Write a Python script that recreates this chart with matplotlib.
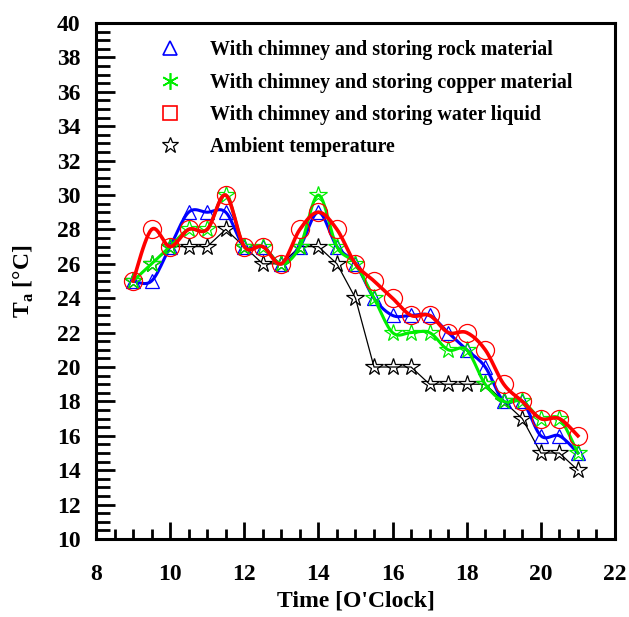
import numpy as np
import matplotlib.pyplot as plt
from matplotlib.ticker import MultipleLocator

plt.rcParams['font.family'] = ['Liberation Serif', 'DejaVu Serif']
plt.rcParams['font.weight'] = 'bold'
plt.rcParams['mathtext.fontset'] = 'custom'
plt.rcParams['mathtext.rm'] = 'Liberation Serif:bold'

# time of day [h]
hours = np.arange(9, 21.01, 0.5)

rock = [25, 25, 27, 29, 29, 29, 27, 27, 26, 27, 29, 27, 26, 24, 23, 23, 23, 22, 21, 20, 18, 18, 16, 16, 15]
copper = [25, 26, 27, 28, 28, 30, 27, 27, 26, 27, 30, 27, 26, 24, 22, 22, 22, 21, 21, 19, 18, 18, 17, 17, 15]
water = [25, 28, 27, 28, 28, 30, 27, 27, 26, 28, 29, 28, 26, 25, 24, 23, 23, 22, 22, 21, 19, 18, 17, 17, 16]
ambient = [25, 26, 27, 27, 27, 28, 27, 26, 26, 27, 27, 26, 24, 20, 20, 20, 19, 19, 19, 19, 18, 17, 15, 15, 14]

labels = ["With chimney and storing rock material",
          "With chimney and storing copper material",
          "With chimney and storing water liquid",
          "Ambient temperature"]


def smooth(x, y, n=12):
    # catmull-rom curve through the points (just for drawing)
    x = np.asarray(x, float)
    y = np.asarray(y, float)
    px = np.r_[x[0], x, x[-1]]
    py = np.r_[y[0], y, y[-1]]
    t = np.linspace(0, 1, n, endpoint=False)
    xs, ys = [], []
    for i in range(1, len(px) - 2):
        for p, out in ((px, xs), (py, ys)):
            p0, p1, p2, p3 = p[i - 1], p[i], p[i + 1], p[i + 2]
            out.extend(0.5 * (2 * p1 + (-p0 + p2) * t + (2 * p0 - 5 * p1 + 4 * p2 - p3) * t ** 2
                              + (-p0 + 3 * p1 - 3 * p2 + p3) * t ** 3))
    xs.append(x[-1])
    ys.append(y[-1])
    return xs, ys


fig = plt.figure(figsize=(6.29, 6.17), dpi=100)
ax = fig.add_axes([0.1526, 0.1264, 0.8251, 0.8363])

ax.plot(hours, ambient, color='black', lw=0.9, marker='*', ms=13, mfc='none', mec='black', mew=0.9, zorder=2)

series = [(rock, 'blue', '^', 10), (copper, '#00ee00', '*', 13)]
for vals, col, mk, ms in series:
    sx, sy = smooth(hours, vals)
    ax.plot(sx, sy, color=col, lw=2.2, zorder=3)
    ax.plot(hours, vals, ls='none', marker=mk, ms=ms, mfc='none', mec=col, mew=0.9, zorder=3)
sx, sy = smooth(hours, water)
ax.plot(sx, sy, color='red', lw=2.6, zorder=4)
ax.plot(hours, water, ls='none', marker='o', ms=13, mfc='none', mec='red', mew=0.9, zorder=4)

# legend (markers only)
handles = [plt.Line2D([], [], ls='none', marker='^', ms=10, mfc='none', mec='blue', mew=1.2),
           plt.Line2D([], [], ls='none', marker=(6, 2, 0), ms=12, mec='#00ee00', mew=1.2),
           plt.Line2D([], [], ls='none', marker='s', ms=10, mfc='none', mec='red', mew=1.2),
           plt.Line2D([], [], ls='none', marker='*', ms=12, mfc='none', mec='black', mew=0.9)]
ax.legend(handles, labels, loc='upper left', bbox_to_anchor=(0.08, 0.99), frameon=False,
          fontsize=14.4, handletextpad=1.0, labelspacing=0.62, borderaxespad=0.2)

ax.set_xlim(8, 22)
ax.set_ylim(10, 40)
ax.xaxis.set_major_locator(MultipleLocator(2))
ax.xaxis.set_minor_locator(MultipleLocator(0.5))
ax.yaxis.set_major_locator(MultipleLocator(2))
ax.yaxis.set_minor_locator(MultipleLocator(0.5))
ax.tick_params(axis='y', which='major', direction='in', length=14, width=2, labelsize=17, pad=11)
ax.tick_params(axis='y', which='minor', direction='in', length=10, width=2)
ax.tick_params(axis='x', which='major', direction='in', length=12, width=2, labelsize=17, pad=18)
ax.tick_params(axis='x', which='minor', direction='in', length=7, width=2)
for s in ax.spines.values():
    s.set_linewidth(2.2)

ax.set_xlabel("Time [O'Clock]", fontsize=17, fontweight='bold', labelpad=4)
ax.set_ylabel('T$_\\mathrm{a}$ [°C]', fontsize=17, fontweight='bold', labelpad=15)

fig.savefig('out.png', dpi=100)
